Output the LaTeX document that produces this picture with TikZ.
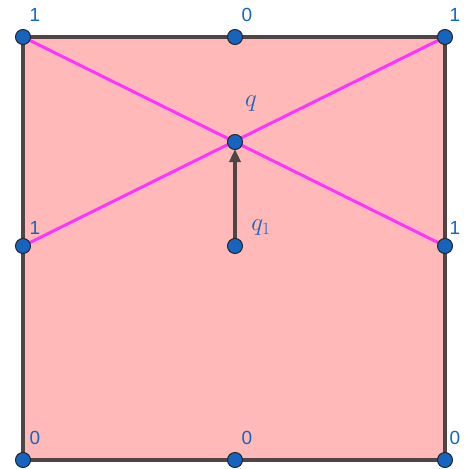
\documentclass[tikz,border=0pt]{standalone}
\usepackage{fontspec}
\setsansfont{Liberation Sans}
\usetikzlibrary{arrows.meta}
\definecolor{fillpink}{RGB}{255,185,185}
\definecolor{edgegray}{RGB}{80,68,68}
\definecolor{mag}{RGB}{255,51,255}
\definecolor{ptblue}{RGB}{21,101,192}
\definecolor{lblblue}{RGB}{21,101,192}
\tikzset{
  pt/.style={circle,fill=ptblue,draw=black!85,line width=1pt,inner sep=0pt,minimum size=15pt},
  num/.style={text=lblblue,font=\sffamily\fontsize{19}{19}\selectfont,inner sep=0pt},
  mlbl/.style={text=lblblue,font=\fontsize{23}{23}\selectfont,inner sep=0pt},
  edge/.style={draw=edgegray,line width=3.4pt},
  diag/.style={draw=mag,line width=3pt},
}
\begin{document}
\begin{tikzpicture}[x=1pt,y=-1pt]
\useasboundingbox (0,0) rectangle (467,469);
\coordinate (TL) at (23,37);
\coordinate (TM) at (235,37);
\coordinate (TR) at (445,37);
\coordinate (LM) at (23,246);
\coordinate (RM) at (445,246);
\coordinate (BL) at (23,460);
\coordinate (BM) at (235,460);
\coordinate (BR) at (445,460);
\coordinate (Q) at (235,142);
\coordinate (Q1) at (235,246);
\fill[fillpink] (TL) rectangle (BR);
\draw[diag] (TL) -- (RM);
\draw[diag] (TR) -- (LM);
\draw[edge,line join=round] (TL) -- (TR) -- (BR) -- (BL) -- cycle;
\draw[draw=edgegray,line width=3.4pt,-{Triangle[length=13pt,width=11pt]},shorten >=7pt] (Q1) -- (Q);
\foreach \p in {TL,TM,TR,LM,RM,BL,BM,BR,Q,Q1} \node[pt] (n\p) at (\p) {};
\node[num] (l1) at (35,15) {1};
\node[num] (l2) at (247,15) {0};
\node[num] (l3) at (455,15) {1};
\node[num] (l4) at (35,228) {1};
\node[num] (l5) at (455,228) {1};
\node[num] (l6) at (35,438) {0};
\node[num] (l7) at (247,438) {0};
\node[num] (l8) at (455,438) {0};
\node[mlbl] (lq) at (251,104) {$q$};
\node[mlbl] (lq1) at (261,228) {$q_1$};
\end{tikzpicture}
\end{document}
